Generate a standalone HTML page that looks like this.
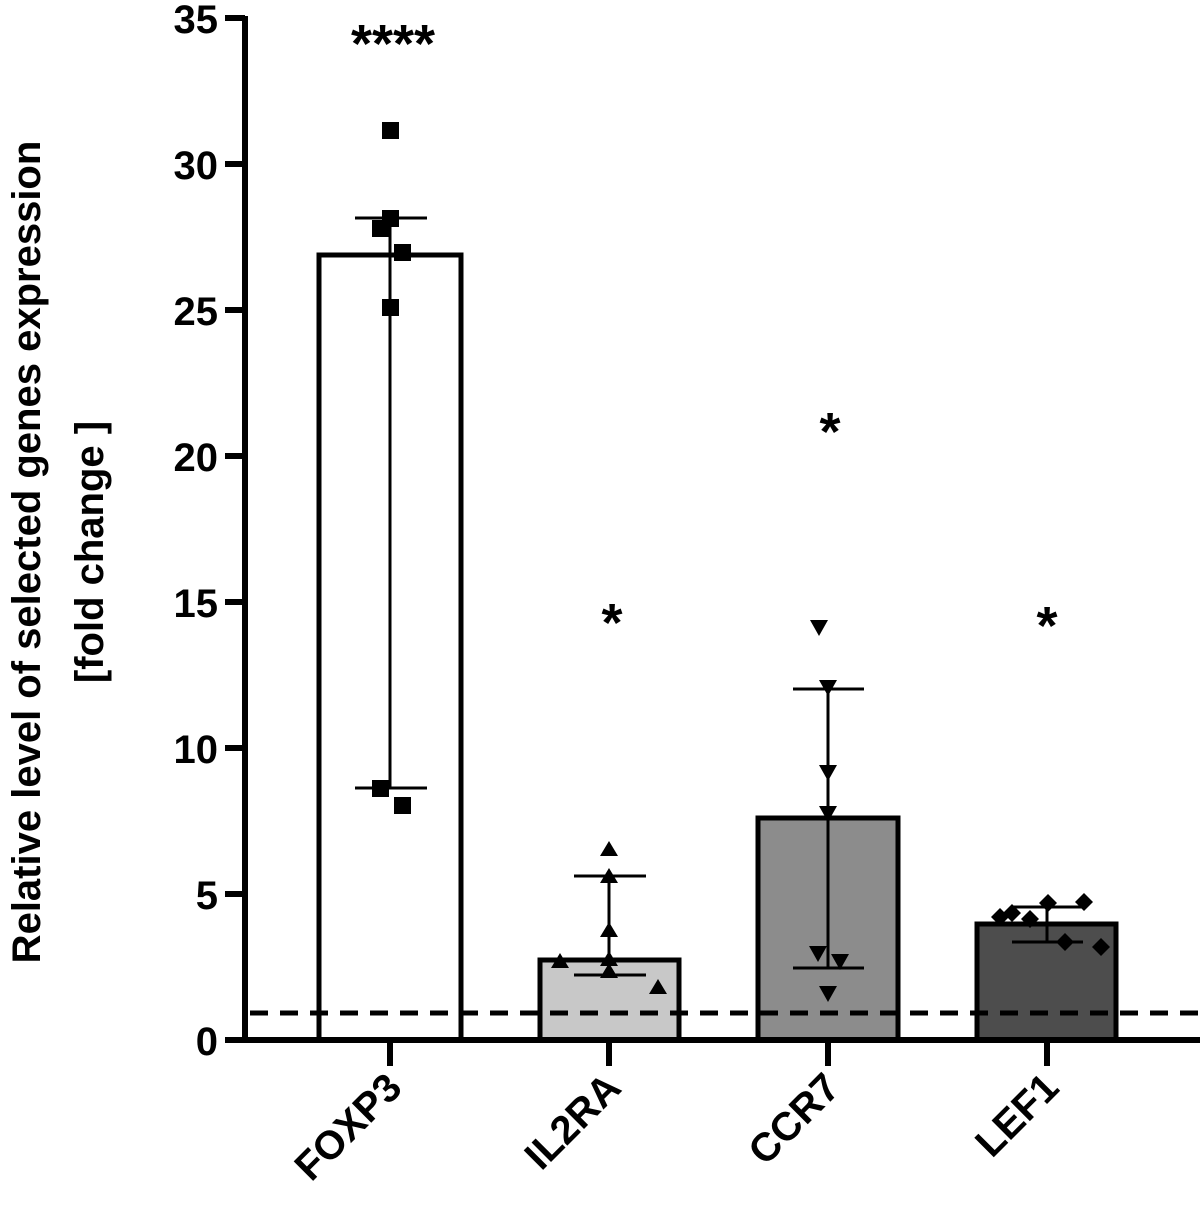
<!DOCTYPE html>
<html><head><style>body{margin:0;background:#fff}svg{display:block}text{font-family:"Liberation Sans",Arial,sans-serif;font-weight:bold;fill:#000}</style></head>
<body>
<svg width="1200" height="1212" viewBox="0 0 1200 1212">
<rect width="1200" height="1212" fill="#fff"/>
<rect x="319" y="255" width="142" height="785" fill="#fff" stroke="#000" stroke-width="5"/>
<rect x="540" y="960" width="139" height="80" fill="#c8c8c8" stroke="#000" stroke-width="5"/>
<rect x="758" y="818" width="140" height="222" fill="#8c8c8c" stroke="#000" stroke-width="5"/>
<rect x="977" y="924" width="139" height="116" fill="#4d4d4d" stroke="#000" stroke-width="5"/>
<line x1="250" y1="1013" x2="1200" y2="1013" stroke="#000" stroke-width="5" stroke-dasharray="18,12"/>
<line x1="245" y1="16" x2="245" y2="1043" stroke="#000" stroke-width="6"/>
<line x1="242" y1="1040" x2="1200" y2="1040" stroke="#000" stroke-width="6"/>
<g stroke="#000" stroke-width="6">
<line x1="225" y1="18" x2="245" y2="18"/><line x1="225" y1="164" x2="245" y2="164"/>
<line x1="225" y1="310" x2="245" y2="310"/><line x1="225" y1="456" x2="245" y2="456"/>
<line x1="225" y1="602" x2="245" y2="602"/><line x1="225" y1="748" x2="245" y2="748"/>
<line x1="225" y1="894" x2="245" y2="894"/><line x1="225" y1="1040" x2="245" y2="1040"/>
<line x1="390" y1="1040" x2="390" y2="1066"/><line x1="609" y1="1040" x2="609" y2="1066"/>
<line x1="828" y1="1040" x2="828" y2="1066"/><line x1="1047" y1="1040" x2="1047" y2="1066"/>
</g>
<g font-size="40" text-anchor="end">
<text x="218" y="33">35</text><text x="218" y="179">30</text><text x="218" y="325">25</text>
<text x="218" y="471">20</text><text x="218" y="617">15</text><text x="218" y="763">10</text>
<text x="218" y="909">5</text><text x="218" y="1055">0</text>
</g>
<g transform="translate(40,552) rotate(-90)" font-size="40" text-anchor="middle"><text x="0" y="0">Relative level of selected genes expression</text></g>
<g transform="translate(103,552) rotate(-90)" font-size="40" text-anchor="middle"><text x="0" y="0">[fold change ]</text></g>
<g font-size="40" text-anchor="end">
<text transform="translate(404,1090) rotate(-45)">FOXP3</text>
<text transform="translate(623,1090) rotate(-45)">IL2RA</text>
<text transform="translate(842,1090) rotate(-45)">CCR7</text>
<text transform="translate(1061,1090) rotate(-45)">LEF1</text>
</g>
<g stroke="#000" stroke-width="3">
<line x1="390" y1="218" x2="390" y2="788"/><line x1="355" y1="218" x2="427" y2="218"/><line x1="355" y1="788" x2="427" y2="788"/>
<line x1="609" y1="876" x2="609" y2="975"/><line x1="574" y1="876" x2="646" y2="876"/><line x1="574" y1="975" x2="646" y2="975"/>
<line x1="828" y1="689" x2="828" y2="968"/><line x1="793" y1="689" x2="864" y2="689"/><line x1="793" y1="968" x2="864" y2="968"/>
<line x1="1047" y1="907" x2="1047" y2="942"/><line x1="1012" y1="907" x2="1083" y2="907"/><line x1="1012" y1="942" x2="1083" y2="942"/>
</g>
<g fill="#000">
<rect x="382" y="122" width="17" height="17"/><rect x="382" y="210" width="17" height="17"/>
<rect x="372" y="220" width="17" height="17"/><rect x="394" y="244" width="17" height="17"/>
<rect x="382" y="299" width="17" height="17"/><rect x="372" y="780" width="17" height="17"/>
<rect x="394" y="797" width="17" height="17"/>
<path d="M609,841 l9,15 h-18z M609,868 l9,15 h-18z M609,922 l9,15 h-18z M609,951 l9,15 h-18z M609,963 l9,15 h-18z M560,953 l9,15 h-18z M658,979 l9,15 h-18z"/>
<path d="M828,696 l9,-16 h-18z M819,620 l9,0 l-9,16 l-9,-16z M828,781 l9,-16 h-18z M828,822 l9,-16 h-18z M818,962 l9,-16 h-18z M840,970 l9,-16 h-18z M828,1002 l9,-16 h-18z"/>
<path d="M1000,908 l9,9 l-9,9 l-9,-9z M1012,904 l9,9 l-9,9 l-9,-9z M1030,910 l9,9 l-9,9 l-9,-9z M1048,894 l9,9 l-9,9 l-9,-9z M1084,893 l9,9 l-9,9 l-9,-9z M1065,933 l9,9 l-9,9 l-9,-9z M1101,938 l9,9 l-9,9 l-9,-9z"/>
</g>
<g font-size="54" text-anchor="middle" font-weight="normal">
<text x="393" y="62">****</text>
<text x="612" y="641">*</text>
<text x="830" y="450">*</text>
<text x="1047" y="644">*</text>
</g>
</svg>
</body></html>
